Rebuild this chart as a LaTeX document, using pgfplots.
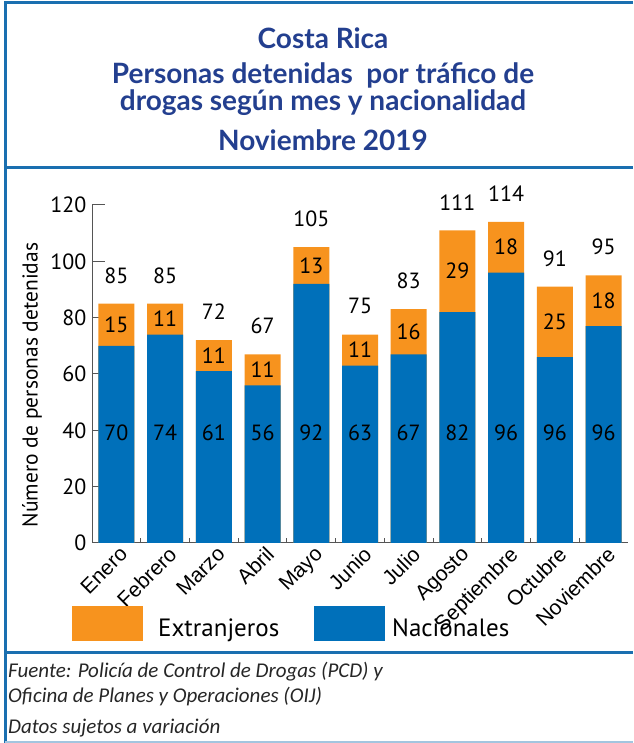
\documentclass[border=0pt]{standalone}
\usepackage{pgfplots}
\pgfplotsset{compat=1.18}
\usepackage{pgfplotstable}
\usepackage{fontspec}
\setmainfont{PT Sans}
\newfontfamily\titlefont{Lato}
\newfontfamily\tickfont{Liberation Sans}
\newfontfamily\srcfont{Carlito}
\definecolor{naranja}{HTML}{F7931E}
\definecolor{azul}{HTML}{0070BA}
\definecolor{titulo}{HTML}{233F8F}
\definecolor{marco}{HTML}{1A6FB0}
\definecolor{eje}{HTML}{555555}

\pgfplotstableread{
x  nac ext tot lnac lext ltot
0  70  15  85  70   15   85
1  74  11  85  74   11   85
2  61  11  72  61   11   72
3  56  11  67  56   11   67
4  92  13  105 92   13   105
5  63  11  74  63   11   75
6  67  16  83  67   16   83
7  82  29  111 82   29   111
8  96  18  114 96   18   114
9  66  25  91  96   25   91
10 77  18  95  96   18   95
}\datos

\begin{document}
\begin{tikzpicture}[x=1pt,y=1pt]
\useasboundingbox (0,0) rectangle (633,743);
% frame
\draw[marco, line width=3pt] (5,740) -- (633,740);
\draw[marco, line width=3pt] (5,741.5) -- (5,0);
\draw[marco, line width=3pt] (5,575) -- (633,575);
\draw[marco, line width=3pt] (5,90) -- (633,90);
\draw[marco!40, line width=1.5pt] (5,1) -- (633,1);
% title
\begin{scope}[every node/.style={text=titulo, font=\titlefont\bfseries\fontsize{28}{32}\selectfont}]
\node at (323,743-38) {Costa Rica};
\node at (323,743-75) {Personas detenidas\ \ por tráfico de};
\node at (323,743-103) {drogas según mes y nacionalidad};
\node at (323,743-140) {Noviembre 2019};
\end{scope}
% y label
\node[rotate=90, font=\fontsize{21.5}{24}\selectfont] at (32,743-385) {Número de personas detenidas};

\begin{axis}[
  at={(92pt,200pt)}, anchor=south west, scale only axis,
  width=536pt, height=338pt,
  xmin=-0.5, xmax=10.5, ymin=0, ymax=120,
  clip=false,
  axis x line*=bottom, axis y line*=left,
  axis line style={draw=eje, line width=1pt},
  ytick={0,20,...,120},
  xtick={0,...,10},
  xticklabels={Enero,Febrero,Marzo,Abril,Mayo,Junio,Julio,Agosto,Septiembre,Octubre,Noviembre},
  x tick label style={rotate=45, anchor=north east, font=\tickfont\fontsize{21}{21}\selectfont, inner sep=1pt, xshift=1pt, yshift=-2pt},
  y tick label style={font=\fontsize{22}{22}\selectfont, xshift=-2pt},
  /pgf/number format/assume math mode=true,
  tick align=inside,
  major tick length=13pt,
  major x tick style={draw=none},
  minor xtick={0.5,1.5,...,9.5},
  minor tick length=5pt,
  minor x tick style={draw=eje, line width=1pt},
  ytick style={draw=eje, line width=1pt},
]
\addplot[ybar, bar width=36pt, bar shift=0pt, fill=naranja, draw=none] table[x=x,y=tot]{\datos};
\addplot[ybar, bar width=36pt, bar shift=0pt, fill=azul, draw=none] table[x=x,y=nac]{\datos};
\addplot[draw=none, mark=none, nodes near coords, point meta=explicit symbolic,
  nodes near coords style={anchor=center, font=\fontsize{22}{22}\selectfont, text=black}]
  table[x=x, y expr=39, meta=lnac]{\datos};
\addplot[draw=none, mark=none, nodes near coords, point meta=explicit symbolic,
  nodes near coords style={anchor=center, font=\fontsize{22}{22}\selectfont, text=black}]
  table[x=x, y expr=\thisrow{nac}+\thisrow{ext}/2, meta=lext]{\datos};
\addplot[draw=none, mark=none, nodes near coords, point meta=explicit symbolic,
  nodes near coords style={anchor=center, font=\fontsize{22}{22}\selectfont, text=black}]
  table[x=x, y expr=\thisrow{tot}+10, meta=ltot]{\datos};
\end{axis}

% legend
\fill[naranja] (72,743-641) rectangle (143,743-606);
\node[anchor=base west, font=\fontsize{25}{28}\selectfont, inner sep=0pt] at (158,743-637) {Extranjeros};
\fill[azul] (314,743-641) rectangle (385,743-606);
\node[anchor=base west, font=\fontsize{25}{28}\selectfont, inner sep=0pt] at (392,743-637) {Nacionales};

% source
\begin{scope}[every node/.style={anchor=west, inner sep=0pt, text=black!85, font=\srcfont\itshape\fontsize{21}{24}\selectfont}]
\node at (8,743-672) {Fuente: Policía de Control de Drogas (PCD) y};
\node at (8,743-697) {Oficina de Planes y Operaciones (OIJ)};
\node at (8,743-728) {Datos sujetos a variación};
\end{scope}
\end{tikzpicture}
\end{document}
